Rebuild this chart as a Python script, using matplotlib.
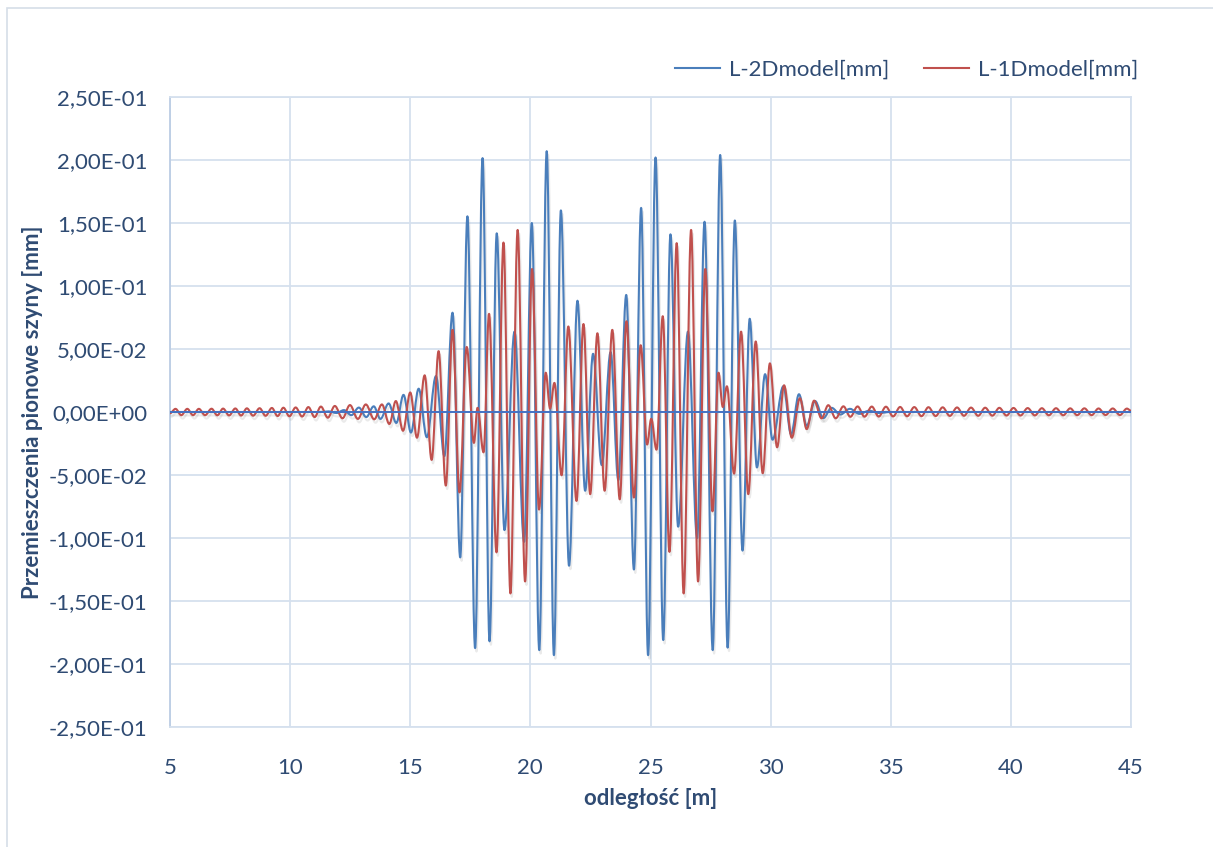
import matplotlib
matplotlib.use("Agg")
import matplotlib.pyplot as plt
import matplotlib.patheffects as pe
from matplotlib.ticker import FuncFormatter
from matplotlib.patches import Rectangle, PathPatch
from matplotlib.path import Path
from matplotlib.lines import Line2D

# L-2Dmodel (blue) - extrema
blue_x = [5.0, 11.3, 11.6, 11.93, 12.24, 12.55, 12.86, 13.17, 13.48, 13.76,
          14.10, 14.42, 14.72, 15.03, 15.35, 15.69, 16.07, 16.42, 16.76, 17.08,
          17.38, 17.70, 18.01, 18.30, 18.60, 18.92, 19.34, 19.74, 20.06, 20.37,
          20.68, 20.98, 21.27, 21.61, 21.96, 22.28, 22.61, 22.97, 23.34, 23.66,
          23.99, 24.31, 24.61, 24.90, 25.21, 25.53, 25.83, 26.15, 26.56, 26.94,
          27.25, 27.59, 27.90, 28.21, 28.51, 28.83, 29.13, 29.43, 29.77, 30.08,
          30.53, 30.85, 31.18, 31.50, 31.85, 32.19, 32.54, 32.90, 33.30, 33.70,
          34.10, 34.50, 35.0, 45.0]
blue_y = [0.0, 0.0, 0.0005, -0.0008, 0.0015, -0.0025, 0.0035, -0.004, 0.0045, -0.0055,
          0.0068, -0.0087, 0.0136, -0.0163, 0.0185, -0.020, 0.0285, -0.035, 0.0788, -0.1154,
          0.1553, -0.1874, 0.2015, -0.182, 0.1418, -0.0937, 0.0638, -0.103, 0.150, -0.189,
          0.207, -0.193, 0.160, -0.122, 0.0883, -0.0625, 0.0462, -0.0421, 0.0475, -0.054,
          0.0929, -0.125, 0.162, -0.193, 0.202, -0.181, 0.141, -0.091, 0.0638, -0.100,
          0.151, -0.189, 0.204, -0.187, 0.152, -0.110, 0.074, -0.044, 0.030, -0.022,
          0.0204, -0.0177, 0.0141, -0.0109, 0.0087, -0.0049, 0.0033, -0.002, 0.0025, -0.0015,
          0.001, -0.0008, 0.0, 0.0]

# L-1Dmodel (red)
red_x = [5.0, 5.23, 5.47, 5.72, 5.96, 6.2, 6.46, 6.73, 6.97, 7.21,
         7.46, 7.72, 7.96, 8.2, 8.46, 8.73, 8.98, 9.24, 9.48, 9.72,
         9.97, 10.23, 10.5, 10.76, 11.02, 11.28, 11.57, 11.86, 12.18, 12.49,
         12.82, 13.15, 13.5, 13.82, 14.13, 14.40, 14.70, 15.0, 15.28, 15.60,
         15.89, 16.18, 16.48, 16.76, 17.05, 17.35, 17.65, 17.80, 18.05, 18.28,
         18.59, 18.88, 19.17, 19.47, 19.78, 20.07, 20.36, 20.64, 20.82, 21.0,
         21.30, 21.58, 21.92, 22.21, 22.49, 22.79, 23.09, 23.41, 23.72, 24.0,
         24.31, 24.59, 24.86, 25.03, 25.25, 25.51, 25.79, 26.09, 26.38, 26.69,
         26.98, 27.28, 27.58, 27.83, 28.01, 28.18, 28.48, 28.77, 29.07, 29.38,
         29.67, 29.97, 30.27, 30.56, 30.88, 31.22, 31.5, 31.81, 32.12, 32.4,
         32.71, 33.03, 33.32, 33.62, 33.91, 34.21, 34.5, 34.8, 35.1, 35.39,
         35.68, 35.98, 36.28, 36.57, 36.87, 37.16, 37.46, 37.76, 38.05, 38.34,
         38.64, 38.93, 39.23, 39.52, 39.82, 40.11, 40.4, 40.7, 41.0, 41.29,
         41.58, 41.88, 42.18, 42.47, 42.76, 43.06, 43.36, 43.65, 43.94, 44.24,
         44.54, 44.83, 45.0]
red_y = [-0.001, 0.0025, -0.0025, 0.0025, -0.0025, 0.0025, -0.0025, 0.0026, -0.0026, 0.0027,
         -0.0027, 0.0028, -0.0028, 0.0029, -0.0029, 0.003, -0.003, 0.0032, -0.0032, 0.0034,
         -0.0034, 0.0036, -0.0036, 0.0039, -0.004, 0.0043, -0.0045, 0.0048, -0.005, 0.0055,
         -0.0055, 0.006, -0.0058, 0.006, -0.0095, 0.0087, -0.0149, 0.0155, -0.0204, 0.0291,
         -0.038, 0.0483, -0.0584, 0.0652, -0.0638, 0.0516, -0.0245, 0.0033, -0.032, 0.0779,
         -0.1114, 0.1345, -0.144, 0.1445, -0.1345, 0.1135, -0.0774, 0.0312, 0.0027, 0.0231,
         -0.0502, 0.0679, -0.0706, 0.0698, -0.0652, 0.0625, -0.0625, 0.0652, -0.0693, 0.072,
         -0.0679, 0.053, -0.0258, -0.0054, -0.0299, 0.076, -0.111, 0.134, -0.144, 0.1445,
         -0.1345, 0.1135, -0.0788, 0.0312, 0.004, 0.0204, -0.0489, 0.0638, -0.0652, 0.056,
         -0.0486, 0.0386, -0.028, 0.0212, -0.0204, 0.0109, -0.0136, 0.009, -0.005, 0.0054,
         -0.005, 0.0045, -0.0038, 0.0044, -0.0037, 0.0043, -0.0036, 0.0042, -0.0035, 0.004,
         -0.0034, 0.0039, -0.0033, 0.0038, -0.0032, 0.0037, -0.0031, 0.0036, -0.003, 0.0035,
         -0.003, 0.0034, -0.0029, 0.0033, -0.0028, 0.0032, -0.0028, 0.0031, -0.0027, 0.003,
         -0.0026, 0.003, -0.0026, 0.0029, -0.0025, 0.0029, -0.0025, 0.0028, -0.0024, 0.0028,
         -0.0024, 0.0027, 0.001]

labels = ["L-2Dmodel[mm]", "L-1Dmodel[mm]"]
x_ticks = [5, 10, 15, 20, 25, 30, 35, 40, 45]
y_ticks = [-0.25, -0.2, -0.15, -0.1, -0.05, 0.0, 0.05, 0.1, 0.15, 0.2, 0.25]

plt.rcParams['font.family'] = ['Lato', 'DejaVu Sans']
text_col = "#2F4B73"
grid_col = "#D5E0EE"
blue = "#4A7EBB"
red = "#C0504D"


def smooth_path(xs, ys, k=0.36):
    # excel-like smoothed line: cubic bezier between the extrema, flat tangent at each
    verts = [(xs[0], ys[0])]
    codes = [Path.MOVETO]
    for x0, y0, x1, y1 in zip(xs[:-1], ys[:-1], xs[1:], ys[1:]):
        dx = x1 - x0
        verts += [(x0 + k * dx, y0), (x1 - k * dx, y1), (x1, y1)]
        codes += [Path.CURVE4] * 3
    return Path(verts, codes)


fig = plt.figure(figsize=(12.13, 8.47), dpi=100)
fig.patches.append(Rectangle((7 / 1213, -0.05), 1.2, 1 - 8 / 847 + 0.05,
                             transform=fig.transFigure, fill=False,
                             edgecolor="#D6DEE8", linewidth=1.2))

ax = fig.add_axes([170 / 1213, 1 - 727 / 847, 961 / 1213, 630 / 847])

shadow = [pe.SimpleLineShadow(offset=(1.0, -2.5), shadow_color="#808080", alpha=0.16),
          pe.Normal()]
for xs, ys, c, z in [(blue_x, blue_y, blue, 3), (red_x, red_y, red, 4)]:
    patch = PathPatch(smooth_path(xs, ys), transform=ax.transData, fill=False,
                      edgecolor=c, lw=1.5, zorder=z, capstyle="round", joinstyle="round")
    patch.set_path_effects(shadow)
    ax.add_patch(patch)
ax.axhline(0, color="#4472C4", lw=1.4, zorder=5)

ax.set_xlim(5, 45)
ax.set_ylim(-0.25, 0.25)
ax.set_xticks(x_ticks)
ax.set_yticks(y_ticks)
ax.yaxis.set_major_formatter(FuncFormatter(lambda v, p: f"{v:.2E}".replace(".", ",")))
ax.grid(True, color=grid_col, lw=1.3)
ax.set_axisbelow(True)
for s in ax.spines.values():
    s.set_color(grid_col)
    s.set_linewidth(1.3)
ax.spines["left"].set_color("#BCCDE4")
ax.tick_params(length=0, labelsize=16, labelcolor=text_col)
ax.tick_params(axis="y", pad=16)
ax.tick_params(axis="x", pad=22)

ax.set_xlabel("odległość [m]", fontsize=16, fontweight="bold", color=text_col)
ax.xaxis.set_label_coords(0.5, -0.113)
ax.xaxis.label.set_va("center")
ax.set_ylabel("Przemieszczenia pionowe szyny [mm]", fontsize=16, fontweight="bold",
              color=text_col)
ax.yaxis.set_label_coords(-0.1426, 0.5)
ax.yaxis.label.set_va("center")

handles = [Line2D([], [], color=blue, lw=1.5), Line2D([], [], color=red, lw=1.5)]
fig.legend(handles, labels, loc="upper right", bbox_to_anchor=(1138 / 1213, 1 - 60 / 847),
           ncol=2, frameon=False, fontsize=16, handlelength=2.0, handletextpad=0.4,
           columnspacing=1.6, borderpad=0, borderaxespad=0, labelcolor=text_col)

fig.savefig("out.png", dpi=100, facecolor="white")
